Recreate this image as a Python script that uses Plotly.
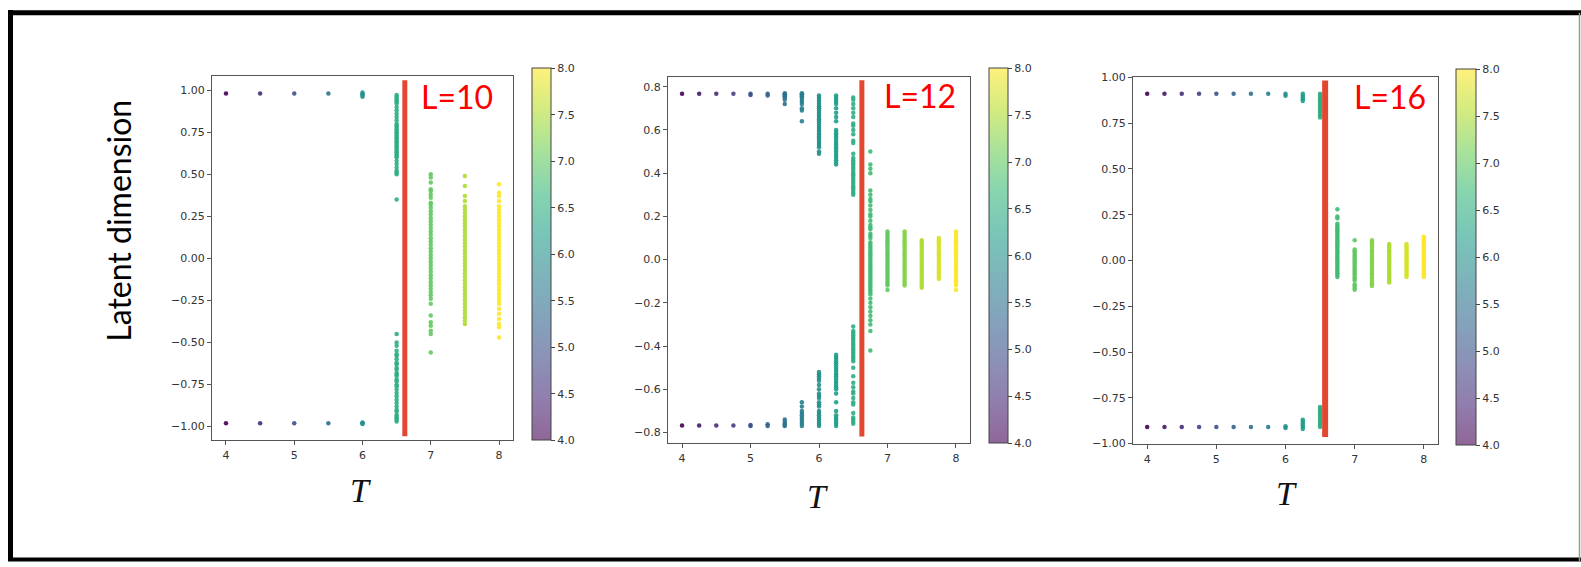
import plotly.graph_objects as go
from plotly.colors import sequential, hex_to_rgb

W, H = 1581, 567

# ---------------- data ----------------
# L = 10
L10_T = [4.0, 4.5, 5.0, 5.5, 6.0, 6.5, 7.0, 7.5, 8.0]
L10_Y = [
    [0.98, -0.98],
    [0.98, -0.98],
    [0.98, -0.98],
    [0.98, -0.98],
    [0.985, 0.975, 0.97, 0.96, -0.975, -0.98, -0.985],
    [0.97, 0.96, 0.95, 0.94, 0.93, 0.92, 0.9, 0.88, 0.86, 0.84, 0.82, 0.8, 0.79, 0.78, 0.77, 0.76,
     0.75, 0.74, 0.73, 0.72, 0.71, 0.70, 0.69, 0.68, 0.67, 0.66, 0.65, 0.64, 0.63, 0.62, 0.61, 0.60,
     0.58, 0.56, 0.54, 0.52, 0.51, 0.50, 0.35,
     -0.45, -0.5, -0.52, -0.55, -0.57, -0.58, -0.6, -0.62, -0.63, -0.65, -0.66, -0.68, -0.69, -0.7,
     -0.72, -0.73, -0.75, -0.76, -0.78, -0.8, -0.82, -0.84, -0.86, -0.88, -0.9, -0.91, -0.93, -0.94,
     -0.95, -0.96, -0.97],
    [0.5, 0.48, 0.45, 0.41, 0.4, 0.38, 0.36, 0.33, 0.32, 0.3, 0.28, 0.26, 0.24, 0.22, 0.2, 0.18, 0.16,
     0.14, 0.12, 0.1, 0.08, 0.06, 0.04, 0.02, 0.0, -0.02, -0.04, -0.06, -0.08, -0.1, -0.12, -0.14,
     -0.16, -0.18, -0.2, -0.22, -0.24, -0.27, -0.34, -0.38, -0.4, -0.43, -0.45, -0.56],
    [0.49, 0.43, 0.37, 0.34, 0.31, 0.29, 0.27, 0.25, 0.23, 0.21, 0.19, 0.17, 0.15, 0.13, 0.11, 0.09,
     0.07, 0.05, 0.03, 0.01, -0.01, -0.03, -0.05, -0.07, -0.09, -0.11, -0.13, -0.15, -0.17, -0.19,
     -0.21, -0.23, -0.25, -0.27, -0.29, -0.31, -0.33, -0.35, -0.37, -0.39],
    [0.44, 0.39, 0.37, 0.34, 0.31, 0.29, 0.27, 0.25, 0.23, 0.21, 0.19, 0.17, 0.15, 0.13, 0.11, 0.09,
     0.07, 0.05, 0.03, 0.01, -0.01, -0.03, -0.05, -0.07, -0.09, -0.11, -0.13, -0.15, -0.17, -0.19,
     -0.21, -0.23, -0.25, -0.27, -0.3, -0.33, -0.36, -0.39, -0.41, -0.47],
]

# L = 12
L12_T = [4.0, 4.25, 4.5, 4.75, 5.0, 5.25, 5.5, 5.75, 6.0, 6.25, 6.5, 6.75, 7.0, 7.25, 7.5, 7.75, 8.0]
L12_Y = [
    [0.768, -0.768],
    [0.768, -0.768],
    [0.768, -0.768],
    [0.768, -0.768],
    [0.768, 0.762, -0.765, -0.770],
    [0.768, 0.76, -0.762, -0.77],
    [0.77, 0.765, 0.76, 0.755, 0.75, 0.74, 0.72, -0.74, -0.75, -0.76, -0.765, -0.77],
    [0.77, 0.765, 0.76, 0.755, 0.75, 0.74, 0.73, 0.72, 0.70, 0.69, 0.64,
     -0.66, -0.68, -0.70, -0.71, -0.72, -0.73, -0.74, -0.75, -0.76, -0.77],
    [0.76, 0.75, 0.74, 0.73, 0.72, 0.71, 0.70, 0.69, 0.68, 0.67, 0.66, 0.65, 0.64, 0.63, 0.62, 0.61,
     0.60, 0.59, 0.58, 0.57, 0.56, 0.55, 0.54, 0.53, 0.52, 0.50, 0.49,
     -0.52, -0.53, -0.54, -0.55, -0.56, -0.58, -0.6, -0.62, -0.63, -0.64, -0.66, -0.67, -0.68, -0.7,
     -0.71, -0.72, -0.73, -0.74, -0.75, -0.76, -0.77],
    [0.76, 0.75, 0.74, 0.73, 0.72, 0.7, 0.68, 0.66, 0.64, 0.6, 0.59, 0.58, 0.57, 0.56, 0.55, 0.54,
     0.53, 0.52, 0.51, 0.50, 0.49, 0.48, 0.47, 0.46, 0.45, 0.44,
     -0.44, -0.45, -0.46, -0.47, -0.48, -0.49, -0.5, -0.51, -0.52, -0.53, -0.54, -0.55, -0.56, -0.57,
     -0.58, -0.59, -0.6, -0.62, -0.66, -0.7, -0.72, -0.73, -0.74, -0.75, -0.76, -0.77],
    [0.75, 0.74, 0.72, 0.7, 0.68, 0.66, 0.63, 0.62, 0.6, 0.58, 0.55, 0.54, 0.49, 0.47, 0.46, 0.45,
     0.44, 0.43, 0.42, 0.41, 0.4, 0.39, 0.38, 0.37, 0.36, 0.35, 0.34, 0.33, 0.32, 0.31, 0.3,
     -0.31, -0.33, -0.34, -0.35, -0.36, -0.37, -0.38, -0.39, -0.4, -0.41, -0.42, -0.43, -0.44, -0.45,
     -0.46, -0.47, -0.5, -0.54, -0.57, -0.59, -0.61, -0.62, -0.64, -0.66, -0.67, -0.71, -0.73, -0.74,
     -0.75, -0.76],
    [0.5, 0.44, 0.42, 0.40, 0.32, 0.3, 0.28, 0.27, 0.25, 0.23, 0.21, 0.2, 0.18, 0.16, 0.15, 0.14,
     0.12, 0.11, 0.1, 0.08, 0.07, 0.06, 0.05, 0.04, 0.03, 0.02, 0.01, 0.0, -0.01, -0.02, -0.03, -0.04,
     -0.05, -0.06, -0.07, -0.08, -0.09, -0.1, -0.11, -0.12, -0.13, -0.14, -0.15, -0.16, -0.18, -0.2,
     -0.22, -0.24, -0.26, -0.28, -0.3, -0.33, -0.42],
    [0.13, 0.12, 0.11, 0.1, 0.09, 0.08, 0.07, 0.06, 0.05, 0.04, 0.03, 0.02, 0.01, 0.0, -0.01, -0.02,
     -0.03, -0.04, -0.05, -0.06, -0.07, -0.08, -0.09, -0.1, -0.11, -0.12, -0.14],
    [0.13, 0.12, 0.11, 0.1, 0.09, 0.08, 0.07, 0.06, 0.05, 0.04, 0.03, 0.02, 0.01, 0.0, -0.01, -0.02,
     -0.03, -0.04, -0.05, -0.06, -0.07, -0.08, -0.09, -0.1, -0.11, -0.12],
    [0.09, 0.08, 0.07, 0.06, 0.05, 0.04, 0.03, 0.02, 0.01, 0.0, -0.01, -0.02, -0.03, -0.04, -0.05,
     -0.06, -0.07, -0.08, -0.09, -0.1, -0.11, -0.12, -0.13],
    [0.1, 0.09, 0.08, 0.07, 0.06, 0.05, 0.04, 0.03, 0.02, 0.01, 0.0, -0.01, -0.02, -0.03, -0.04,
     -0.05, -0.06, -0.07, -0.08, -0.09],
    [0.13, 0.12, 0.11, 0.1, 0.09, 0.08, 0.07, 0.06, 0.05, 0.04, 0.03, 0.02, 0.01, 0.0, -0.01, -0.02,
     -0.03, -0.04, -0.05, -0.06, -0.07, -0.08, -0.09, -0.1, -0.11, -0.12, -0.14],
]

# L = 16
L16_T = [4.0, 4.25, 4.5, 4.75, 5.0, 5.25, 5.5, 5.75, 6.0, 6.25, 6.5, 6.75, 7.0, 7.25, 7.5, 7.75, 8.0]
L16_Y = [
    [0.91, -0.91],
    [0.91, -0.91],
    [0.91, -0.91],
    [0.91, -0.91],
    [0.91, -0.91],
    [0.91, -0.91],
    [0.91, -0.91],
    [0.91, -0.91],
    [0.91, 0.9, -0.905, -0.915],
    [0.91, 0.9, 0.89, 0.88, 0.87, -0.87, -0.88, -0.89, -0.9, -0.91, -0.92],
    [0.91, 0.9, 0.89, 0.88, 0.87, 0.86, 0.85, 0.84, 0.83, 0.82, 0.81, 0.8, 0.79, 0.78,
     -0.8, -0.81, -0.82, -0.83, -0.84, -0.85, -0.86, -0.87, -0.88, -0.89, -0.9, -0.91],
    [0.28, 0.24, 0.23, 0.2, 0.19, 0.18, 0.17, 0.16, 0.15, 0.14, 0.13, 0.12, 0.11, 0.1, 0.09, 0.08,
     0.07, 0.06, 0.05, 0.04, 0.03, 0.02, 0.01, 0.0, -0.01, -0.02, -0.03, -0.04, -0.05, -0.06, -0.07,
     -0.08, -0.09],
    [0.11, 0.06, 0.05, 0.04, 0.03, 0.02, 0.01, 0.0, -0.01, -0.02, -0.03, -0.04, -0.05, -0.06, -0.07,
     -0.08, -0.09, -0.1, -0.11, -0.13, -0.14, -0.15, -0.16],
    [0.11, 0.1, 0.09, 0.08, 0.07, 0.06, 0.05, 0.04, 0.03, 0.02, 0.01, 0.0, -0.01, -0.02, -0.03,
     -0.04, -0.05, -0.06, -0.07, -0.08, -0.09, -0.1, -0.11, -0.12, -0.13, -0.14],
    [0.09, 0.08, 0.07, 0.06, 0.05, 0.04, 0.03, 0.02, 0.01, 0.0, -0.01, -0.02, -0.03, -0.04, -0.05,
     -0.06, -0.07, -0.08, -0.09, -0.1, -0.11, -0.12],
    [0.09, 0.08, 0.07, 0.06, 0.05, 0.04, 0.03, 0.02, 0.01, 0.0, -0.01, -0.02, -0.03, -0.04, -0.05,
     -0.06, -0.07, -0.08, -0.09],
    [0.13, 0.12, 0.11, 0.1, 0.09, 0.08, 0.07, 0.06, 0.05, 0.04, 0.03, 0.02, 0.01, 0.0, -0.01, -0.02,
     -0.03, -0.04, -0.05, -0.06, -0.07, -0.08, -0.09],
]

PANEL_LABELS = ["L=10", "L=12", "L=16"]
T_CRIT = [6.62, 6.626, 6.573]          # red vertical line positions
CRIT_Y = [(-1.058, 1.058), (-0.818, 0.83), (-0.964, 0.982)]
Y_RANGES = [(-1.082, 1.086), (-0.85, 0.847), (-1.004, 1.004)]
Y_DTICK = [0.25, 0.2, 0.25]
Y_FMT = [".2f", ".1f", ".2f"]
CB_TICKS = [4.0, 4.5, 5.0, 5.5, 6.0, 6.5, 7.0, 7.5, 8.0]

# ---------------- layout geometry (pixels) ----------------
AX_PX = [(212, 513, 72, 444), (668, 970, 73, 447), (1133, 1438, 73, 448)]
CB_PX = [(532, 551, 72, 444), (989, 1008, 72, 447), (1456, 1476, 73, 449)]
LBL_PX = [(457, 93), (920, 92), (1390, 93)]
TLBL_PX = [(360, 495), (818, 501), (1286, 498)]


def px(x):
    return x / W


def py(y):
    return 1 - y / H


def faded(scale, alpha=0.6):
    out = []
    n = len(scale)
    for i, c in enumerate(scale):
        r, g, b = hex_to_rgb(c)
        r = round(alpha * r + (1 - alpha) * 255)
        g = round(alpha * g + (1 - alpha) * 255)
        b = round(alpha * b + (1 - alpha) * 255)
        out.append([i / (n - 1), f"rgb({r},{g},{b})"])
    return out


VIRIDIS = sequential.Viridis
FADED = faded(VIRIDIS, 0.6)

fig = go.Figure()
tick_font = dict(family="DejaVu Sans", size=11, color="#333333")

panels = [(L10_T, L10_Y), (L12_T, L12_Y), (L16_T, L16_Y)]
for i, (ts, ys) in enumerate(panels):
    xs_all, ys_all = [], []
    for t, col in zip(ts, ys):
        xs_all += [t] * len(col)
        ys_all += col
    ax = "" if i == 0 else str(i + 1)
    fig.add_trace(go.Scatter(
        x=xs_all, y=ys_all, mode="markers",
        xaxis="x" + ax, yaxis="y" + ax,
        marker=dict(size=4.5, color=xs_all, colorscale="Viridis", cmin=4, cmax=8,
                    opacity=0.9, line=dict(width=0)),
        showlegend=False, hoverinfo="skip",
    ))
    cx0, cx1, cy0, cy1 = CB_PX[i]
    fig.add_trace(go.Scatter(
        x=[ts[0], ts[-1]], y=[0, 0], mode="markers",
        xaxis="x" + ax, yaxis="y" + ax,
        marker=dict(size=1, opacity=0, color=[4, 8], colorscale=FADED, cmin=4, cmax=8,
                    showscale=True,
                    colorbar=dict(
                        x=px(cx0), xanchor="left", y=py(cy1), yanchor="bottom",
                        len=cy1 - cy0, lenmode="pixels",
                        thickness=cx1 - cx0, thicknessmode="pixels",
                        xpad=0, ypad=0, outlinewidth=1, outlinecolor="#444444",
                        ticks="outside", ticklen=4, tickcolor="#444444",
                        tickvals=CB_TICKS, tickformat=".1f", tickfont=tick_font,
                    )),
        showlegend=False, hoverinfo="skip",
    ))
    x0, x1, y0, y1 = AX_PX[i]
    axis_common = dict(showline=True, mirror=True, linecolor="#555555", linewidth=1,
                       ticks="outside", ticklen=4, tickcolor="#555555", tickfont=tick_font,
                       showgrid=False, zeroline=False)
    fig.update_layout(**{
        "xaxis" + ax: dict(domain=[px(x0), px(x1)], range=[3.795, 8.205], dtick=1, tick0=4,
                           anchor="y" + ax, **axis_common),
        "yaxis" + ax: dict(domain=[py(y1), py(y0)], range=list(Y_RANGES[i]), dtick=Y_DTICK[i],
                           tick0=0, tickformat=Y_FMT[i], anchor="x" + ax, **axis_common),
    })
    # red critical line
    fig.add_shape(type="line", xref="x" + ax, yref="y" + ax,
                  x0=T_CRIT[i], x1=T_CRIT[i], y0=CRIT_Y[i][0], y1=CRIT_Y[i][1],
                  line=dict(color="#E4472F", width=5 if i < 2 else 6))
    # L label
    lx, ly = LBL_PX[i]
    fig.add_annotation(x=px(lx), y=py(ly), xref="paper", yref="paper", text=PANEL_LABELS[i],
                       showarrow=False, xanchor="center", yanchor="middle",
                       font=dict(family="Lato", size=32, color="#FF0000"))
    # T label
    tx, ty = TLBL_PX[i]
    fig.add_annotation(x=px(tx), y=py(ty), xref="paper", yref="paper", text="<i>T</i>",
                       showarrow=False, xanchor="center", yanchor="middle",
                       font=dict(family="Liberation Serif", size=34, color="#111111"))

fig.add_annotation(x=px(119), y=py(220), xref="paper", yref="paper", text="Latent dimension",
                   showarrow=False, textangle=-90, xanchor="center", yanchor="middle",
                   font=dict(family="Lato", size=32, color="#000000"))

# outer frame
frame = [
    dict(x0=10.5, y0=5, x1=10.5, y1=567, c="#000000", w=5),
    dict(x0=8, y0=8, x1=1581, y1=8, c="#000000", w=5),
    dict(x0=8, y0=565.5, x1=1581, y1=565.5, c="#000000", w=4),
    dict(x0=1579.5, y0=8, x1=1579.5, y1=567, c="#999999", w=1.5),
]
for f in frame:
    fig.add_shape(type="line", xref="paper", yref="paper",
                  x0=px(f["x0"]), x1=px(f["x1"]), y0=py(f["y0"]), y1=py(f["y1"]),
                  line=dict(color=f["c"], width=f["w"]))

fig.update_layout(width=W, height=H, margin=dict(l=0, r=0, t=0, b=0),
                  paper_bgcolor="white", plot_bgcolor="white", showlegend=False)

fig.write_html("out.html")
